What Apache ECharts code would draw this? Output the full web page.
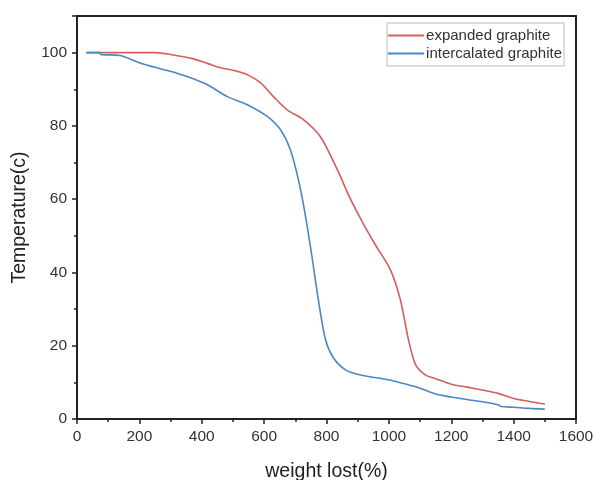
<!DOCTYPE html>
<html><head><meta charset="utf-8">
<script src="https://cdn.jsdelivr.net/npm/echarts@6/dist/echarts.min.js"></script>
<style>html,body{margin:0;padding:0;background:#fff}#c{width:596px;height:480px}</style>
</head><body><div id="c"></div>
<script>
var expandedX = [30, 100, 200, 250, 300, 373, 420, 460, 510, 546, 588, 630, 674, 726, 780, 835, 877, 920, 957, 1005, 1037, 1063, 1086, 1118, 1150, 1200, 1250, 1300, 1350, 1400, 1450, 1500];
var expandedY = [100, 100, 100, 100, 99.5, 98.3, 97, 95.9, 95, 94, 91.8, 88, 84.4, 81.7, 77.1, 68, 60, 53, 47.5, 40.7, 32.5, 21.6, 14.8, 12, 11, 9.5, 8.7, 7.9, 7, 5.6, 4.8, 4.1];
var intercalX = [30, 74, 76, 138, 202, 267, 320, 373, 417, 482, 546, 610, 652, 684, 710, 732, 755, 774, 797, 822, 861, 909, 1000, 1050, 1100, 1150, 1200, 1250, 1300, 1350, 1360, 1400, 1450, 1500];
var intercalY = [100, 100, 99.5, 99.2, 97.2, 95.6, 94.4, 92.9, 91.3, 88, 85.8, 82.6, 79, 73.5, 65.3, 55.7, 43.4, 32.5, 21.6, 16.7, 13.4, 12, 10.7, 9.6, 8.4, 6.8, 6.0, 5.3, 4.7, 3.9, 3.4, 3.2, 2.9, 2.7];
var xTicks = [0, 200, 400, 600, 800, 1000, 1200, 1400, 1600];
var yTicks = [0, 20, 40, 60, 80, 100];

function pairs(xs, ys){ return xs.map(function(x,i){return [x, ys[i]];}); }
var chart = echarts.init(document.getElementById('c'));
var FONT = 'Liberation Sans, Arial';
var axisCommon = {
  axisLine:{show:true, lineStyle:{color:'#222', width:2}},
  axisTick:{show:true, inside:false, length:5, lineStyle:{color:'#222', width:1.5}},
  minorTick:{show:true, splitNumber:2, length:3, lineStyle:{color:'#222', width:1.5}},
  splitLine:{show:false}
};
chart.setOption({
  animation:false,
  grid:{left:77, right:20, top:16, bottom:61, show:true, borderColor:'#222', borderWidth:2,
        containLabel:false, outerBoundsMode:'none'},
  legend:{
    orient:'vertical', right:32, top:23, itemWidth:36, itemHeight:2, itemGap:3,
    icon:'rect',
    borderColor:'#bbb', borderWidth:1, padding:[5,2,5,1],
    textStyle:{color:'#333', fontSize:15, fontFamily:FONT, padding:[0,0,0,-3]},
    data:['expanded graphite','intercalated graphite']
  },
  xAxis:Object.assign({type:'value', min:0, max:1600, interval:200,
    name:'weight lost(%)', nameLocation:'middle', nameGap:43,
    nameTextStyle:{color:'#222', fontSize:19.5, fontFamily:FONT}}, axisCommon,
    {axisLabel:{color:'#333', fontSize:15.5, fontFamily:FONT, margin:10,
      formatter:function(v){return xTicks.indexOf(v)>=0 ? String(v) : '';}}}),
  yAxis:Object.assign({type:'value', min:0, max:110, interval:20,
    name:'Temperature(c)', nameLocation:'middle', nameGap:47,
    nameTextStyle:{color:'#222', fontSize:19.5, fontFamily:FONT}}, axisCommon,
    {axisLabel:{color:'#333', fontSize:15.5, fontFamily:FONT, margin:10, showMaxLabel:false,
      formatter:function(v){return yTicks.indexOf(v)>=0 ? String(v) : '';}}}),
  series:[
    {name:'expanded graphite', type:'line', symbol:'none', smooth:0.3,
     lineStyle:{color:'#d85c5e', width:1.6}, itemStyle:{color:'#d85c5e'},
     data:pairs(expandedX, expandedY)},
    {name:'intercalated graphite', type:'line', symbol:'none', smooth:0.3,
     lineStyle:{color:'#4a87c4', width:1.6}, itemStyle:{color:'#4a87c4'},
     data:pairs(intercalX, intercalY)}
  ]
});
</script></body></html>
